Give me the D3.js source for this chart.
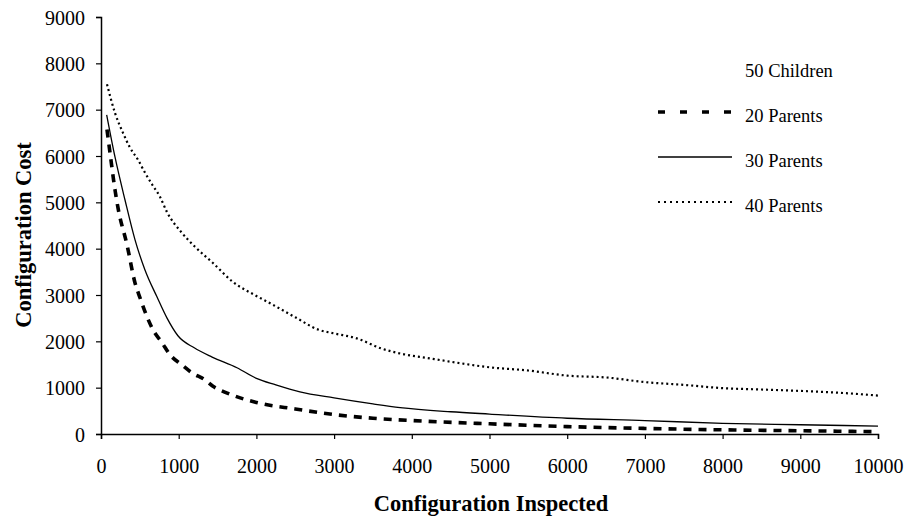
<!DOCTYPE html>
<html><head><meta charset="utf-8">
<script src="https://cdn.jsdelivr.net/npm/d3@7"></script>
<style>body{margin:0;background:#fff}svg{display:block}text{font-family:"Liberation Serif","Times New Roman",serif;fill:#000}</style>
</head><body>
<script>
const xTicks = [0,1000,2000,3000,4000,5000,6000,7000,8000,9000,10000];
const yTicks = [0,1000,2000,3000,4000,5000,6000,7000,8000,9000];
const parents20 = [[77,6570],[116,6070],[180,5270],[219,4880],[335,4080],[438,3260],[502,2940],[592,2530],[669,2250],[785,1970],[888,1710],[1042,1490],[1171,1320],[1338,1170],[1441,1030],[1600,900],[2000,680],[2500,540],[3000,420],[3500,340],[4000,290],[5000,220],[6000,160],[7000,120],[8000,90],[9000,70],[10000,50]];
const parents30 = [[73,6890],[180,5980],[309,5050],[438,4190],[566,3540],[720,2960],[850,2500],[990,2120],[1200,1860],[1430,1660],[1750,1430],[2000,1200],[2250,1060],[2560,910],[3000,780],[3500,650],[3850,570],[4500,480],[5000,430],[6000,340],[7000,290],[8000,230],[9000,200],[10000,170]];
const parents40 = [[77,7550],[180,6930],[283,6500],[373,6180],[476,5920],[566,5640],[660,5380],[759,5120],[849,4790],[1042,4340],[1210,4040],[1441,3690],[1700,3280],[2000,2980],[2200,2800],[2500,2520],[2800,2250],[3000,2170],[3300,2060],[3600,1850],[3900,1720],[4200,1640],[4500,1560],[5000,1440],[5500,1370],[6000,1260],[6500,1220],[7000,1120],[7500,1060],[8000,990],[8500,960],[9000,930],[9500,890],[10000,830]];
const seriesNames = ["20 Parents","30 Parents","40 Parents"];
const legendTitle = "50 Children";

const W=908,H=517;
const svg=d3.select("body").append("svg").attr("width",W).attr("height",H);
const x=d3.scaleLinear().domain([0,10000]).range([101,878]);
const y=d3.scaleLinear().domain([0,9000]).range([434,17]);

const styles=[
 {dash:"8,7",w:3.6,ldash:"7,15"},
 {dash:null,w:1.3,ldash:null},
 {dash:"2,3",w:2.2,ldash:"2,4"}
];
const line=d3.line().x(d=>x(d[0])).y(d=>y(d[1])).curve(d3.curveMonotoneX);
[parents20,parents30,parents40].forEach((s,i)=>{
  svg.append("path").datum(s).attr("d",line).attr("fill","none").attr("stroke","#000")
   .attr("stroke-width",styles[i].w).attr("stroke-dasharray",styles[i].dash);
});

const xa=svg.append("g").attr("transform","translate(0,434)").call(d3.axisBottom(x).tickValues(xTicks).tickSize(5).tickFormat(d3.format("d")));
xa.selectAll("text").attr("dy",0).attr("y",39).style("font-size","20px");
const ya=svg.append("g").attr("transform","translate(101,0)").call(d3.axisLeft(y).tickValues(yTicks).tickSize(5).tickFormat(d3.format("d")));
ya.selectAll("text").attr("x",-16).attr("dy","0.35em").style("font-size","20px");
svg.selectAll(".domain").attr("stroke","#000").attr("stroke-width",1.5);
svg.selectAll(".tick line").attr("stroke","#000").attr("stroke-width",1.2);
svg.selectAll(".tick text").attr("font-family","Liberation Serif");

svg.append("text").attr("x",491).attr("y",511).attr("text-anchor","middle").style("font-size","22.5px").style("font-weight","bold").text("Configuration Inspected");
svg.append("text").attr("transform","translate(31,235) rotate(-90)").attr("text-anchor","middle").style("font-size","22.5px").style("font-weight","bold").text("Configuration Cost");

svg.append("text").attr("x",745).attr("y",77).style("font-size","18.5px").text(legendTitle);
seriesNames.forEach((n,i)=>{
  const ly=112+i*45;
  svg.append("line").attr("x1",658).attr("x2",732).attr("y1",ly).attr("y2",ly).attr("stroke","#000")
   .attr("stroke-width",styles[i].w).attr("stroke-dasharray",styles[i].ldash);
  svg.append("text").attr("x",745).attr("y",ly+10).style("font-size","18.5px").text(n);
});
</script>
</body></html>
